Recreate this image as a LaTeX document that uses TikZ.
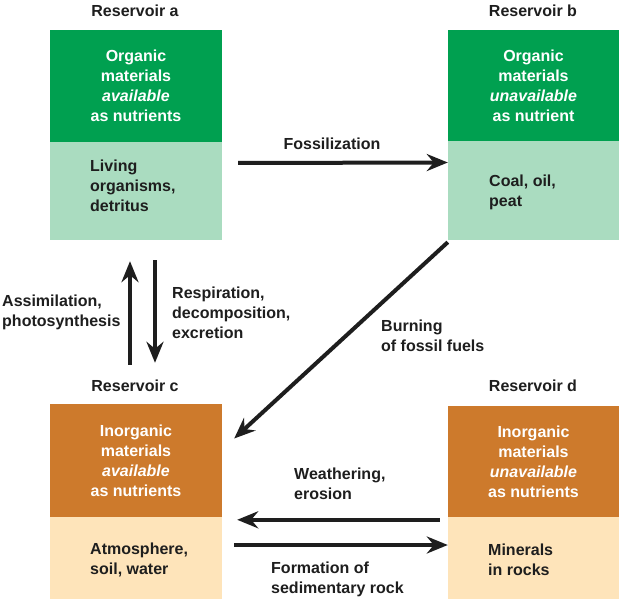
\documentclass[tikz,border=0pt]{standalone}
\usepackage{fontspec}
\setmainfont{Liberation Sans}
\usetikzlibrary{arrows.meta}
\definecolor{dgreen}{RGB}{0,160,80}
\definecolor{lgreen}{RGB}{170,220,192}
\definecolor{dorange}{RGB}{205,122,44}
\definecolor{lorange}{RGB}{254,228,186}
\definecolor{ink}{RGB}{30,30,30}
\begin{document}
\begin{tikzpicture}[x=1pt,y=-1pt,
  every node/.style={font=\bfseries\fontsize{16}{20}\selectfont, text=ink, inner sep=0pt},
  darkbox/.style={rectangle, minimum width=#1, align=center, text=white},
  lightbox/.style={rectangle, minimum width=#1},
  lbl/.style={align=left, anchor=west},
  flow/.style={line width=4pt, draw=ink, -{Stealth[length=21pt,width=17pt,inset=7pt]}}
]
\useasboundingbox[fill=white] (0,0) rectangle (619,599);
% Reservoir a
\node[lightbox=172pt, fill=lgreen, minimum height=98pt] (aL) at (136,191) {};
\node[darkbox=172pt, fill=dgreen, minimum height=112pt] (aD) at (136,86) {Organic\\materials\\\textit{available}\\as nutrients};
\node (aH) at (135,11) {Reservoir a};
\node[lbl] (aT) at (90,186) {Living\\organisms,\\detritus};
% Reservoir b
\node[lightbox=171pt, fill=lgreen, minimum height=99pt] (bL) at (533.5,190.5) {};
\node[darkbox=171pt, fill=dgreen, minimum height=111pt] (bD) at (533.5,85.5) {Organic\\materials\\\textit{unavailable}\\as nutrient};
\node (bH) at (533,11) {Reservoir b};
\node[lbl] (bT) at (489,192.5) {Coal, oil,\\peat};
% Reservoir c
\node[lightbox=172pt, fill=lorange, minimum height=82pt] (cL) at (136,558) {};
\node[darkbox=172pt, fill=dorange, minimum height=113pt] (cD) at (136,460.5) {Inorganic\\materials\\\textit{available}\\as nutrients};
\node (cH) at (135,386) {Reservoir c};
\node[lbl] (cT) at (90,560) {Atmosphere,\\soil, water};
% Reservoir d
\node[lightbox=171pt, fill=lorange, minimum height=82pt] (dL) at (533.5,558) {};
\node[darkbox=171pt, fill=dorange, minimum height=111pt] (dD) at (533.5,461.5) {Inorganic\\materials\\\textit{unavailable}\\as nutrients};
\node (dH) at (533,386) {Reservoir d};
\node[lbl] (dT) at (488,560) {Minerals\\in rocks};
% flows
\draw[flow] ([xshift=16pt,yshift=28pt]aL.east) -- ([yshift=28pt]bL.west);
\node (fos) at (332,144) {Fossilization};
\draw[flow] ([xshift=-6pt,yshift=39pt]cD.north) -- ([xshift=-6pt,yshift=-21pt]aL.south);
\draw[flow] ([xshift=19pt,yshift=-20pt]aL.south) -- ([xshift=19pt,yshift=41pt]cD.north);
\node[lbl] (assim) at (2,312) {Assimilation,\\photosynthesis};
\node[lbl] (resp) at (172,313) {Respiration,\\decomposition,\\excretion};
\draw[flow] ([yshift=-2pt]bL.south west) -- ([xshift=12pt,yshift=22pt]cD.east);
\node[lbl] (burn) at (381,336) {Burning\\of fossil fuels};
\draw[flow] ([xshift=-8pt,yshift=-3pt]dL.north west) -- ([xshift=15pt,yshift=-3pt]cL.north east);
\node[lbl] (weath) at (294,484) {Weathering,\\erosion};
\draw[flow] ([xshift=12pt,yshift=13pt]cL.east) -- ([yshift=13pt]dL.west);
\node[lbl] (form) at (271,579) {Formation of\\sedimentary rock};
\end{tikzpicture}
\end{document}
